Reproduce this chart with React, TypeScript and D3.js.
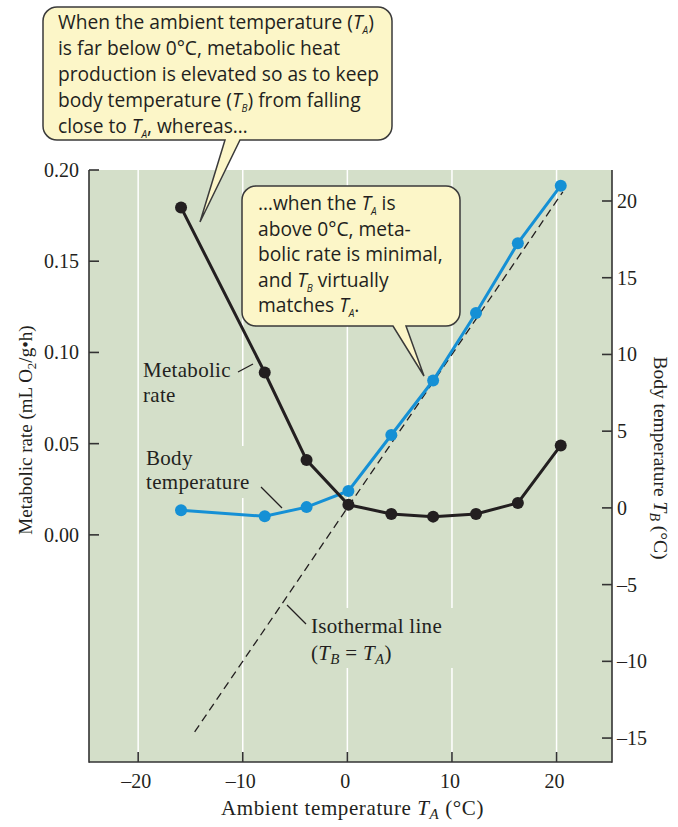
import React from 'react';
import * as d3 from 'd3';

// ambient temperature (°C) at each measurement
const ambientTemps = [-15.9, -7.9, -3.9, 0.1, 4.2, 8.2, 12.3, 16.3, 20.4];
// metabolic rate, mL O2 / g·h (left axis)
const metabolicRate = [0.1795, 0.089, 0.041, 0.0165, 0.0115, 0.010, 0.0115, 0.0175, 0.049];
// body temperature, °C (right axis)
const bodyTemp = [-0.15, -0.55, 0.05, 1.1, 4.75, 8.3, 12.7, 17.25, 21.0];
// isothermal line T_B = T_A, drawn between these ambient temps
const isoRange = [-14.6, 20.6];

const xTicks = [-20, -10, 0, 10, 20];
const leftTicks = [0, 0.05, 0.1, 0.15, 0.2];
const rightTicks = [-15, -10, -5, 0, 5, 10, 15, 20];

type Seg = { t: string; it?: boolean; sub?: boolean };

const callout1: Seg[][] = [
  [{ t: 'When the ambient temperature (' }, { t: 'T', it: true }, { t: 'A', it: true, sub: true }, { t: ')' }],
  [{ t: 'is far below 0°C, metabolic heat' }],
  [{ t: 'production is elevated so as to keep' }],
  [{ t: 'body temperature (' }, { t: 'T', it: true }, { t: 'B', it: true, sub: true }, { t: ') from falling' }],
  [{ t: 'close to ' }, { t: 'T', it: true }, { t: 'A', it: true, sub: true }, { t: ', whereas…' }],
];

const callout2: Seg[][] = [
  [{ t: '…when the ' }, { t: 'T', it: true }, { t: 'A', it: true, sub: true }, { t: ' is' }],
  [{ t: 'above 0°C, meta-' }],
  [{ t: 'bolic rate is minimal,' }],
  [{ t: 'and ' }, { t: 'T', it: true }, { t: 'B', it: true, sub: true }, { t: ' virtually' }],
  [{ t: 'matches ' }, { t: 'T', it: true }, { t: 'A', it: true, sub: true }, { t: '.' }],
];

const W = 678;
const H = 827;
const margin = { top: 170, right: 66, bottom: 65, left: 89 };

const INK = '#231f20';
const PLOT_BG = '#d4dfc9';
const BLUE = '#1590d5';
const NOTE_BG = '#fcf6c8';
const SERIF = '"Liberation Serif", "Times New Roman", serif';
const SANS = '"Open Sans", Lato, sans-serif';

// render a line made of plain / italic / subscript segments
function segs(list: Seg[], subSize: number, shift: number) {
  let down = false;
  return list.map((s, i) => {
    let dy = 0;
    if (s.sub && !down) { dy = shift; down = true; }
    else if (!s.sub && down) { dy = -shift; down = false; }
    return (
      <tspan
        key={i}
        dy={dy || undefined}
        fontStyle={s.it ? 'italic' : undefined}
        fontSize={s.sub ? subSize : undefined}
      >
        {s.t}
      </tspan>
    );
  });
}

function calloutPath(x0: number, y0: number, x1: number, y1: number, r: number, baseA: number, baseB: number, tip: [number, number]) {
  return [
    `M${x0 + r},${y0}`,
    `H${x1 - r}`,
    `A${r},${r} 0 0 1 ${x1},${y0 + r}`,
    `V${y1 - r}`,
    `A${r},${r} 0 0 1 ${x1 - r},${y1}`,
    `H${baseB}`,
    `L${tip[0]},${tip[1]}`,
    `L${baseA},${y1}`,
    `H${x0 + r}`,
    `A${r},${r} 0 0 1 ${x0},${y1 - r}`,
    `V${y0 + r}`,
    `A${r},${r} 0 0 1 ${x0 + r},${y0}`,
    'Z',
  ].join(' ');
}

export default function App() {
  const x0 = margin.left;
  const x1 = W - margin.right;
  const y0 = margin.top;
  const y1 = H - margin.bottom;

  const x = d3.scaleLinear().domain([-24.7, 25.3]).range([x0, x1]);
  const yM = d3.scaleLinear().domain([-0.1245, 0.2]).range([y1, y0]);
  const yT = d3.scaleLinear().domain([-16.56, 22.02]).range([y1, y0]);

  const metPts = ambientTemps.map((t, i) => [t, metabolicRate[i]] as [number, number]);
  const bodyPts = ambientTemps.map((t, i) => [t, bodyTemp[i]] as [number, number]);

  const metLine = d3.line<[number, number]>().x(d => x(d[0])).y(d => yM(d[1]));
  const bodyLine = d3.line<[number, number]>().x(d => x(d[0])).y(d => yT(d[1]));
  const isoLine = d3.line<number>().x(d => x(d)).y(d => yT(d));

  const fmt = d3.format('.2f');
  const minus = (v: number) => (v < 0 ? '–' + Math.abs(v) : String(v));

  return (
    <svg
      width={W}
      height={H}
      style={{ position: 'absolute', left: 0, top: 0, background: '#fff' }}
      fontFamily={SERIF}
    >
      {/* plot background */}
      <rect x={x0} y={y0} width={x1 - x0} height={y1 - y0} fill={PLOT_BG} />

      {/* white vertical grid */}
      {xTicks.map(t => (
        <line key={t} x1={x(t)} x2={x(t)} y1={y0} y2={y1} stroke="#fff" strokeWidth={1.5} />
      ))}

      {/* label patches that hide the grid */}
      <rect x={144} y={446} width={118} height={52} fill={PLOT_BG} />
      <rect x={308} y={608} width={150} height={60} fill={PLOT_BG} />

      {/* isothermal line */}
      <path d={isoLine(isoRange) || ''} fill="none" stroke={INK} strokeWidth={1.3} strokeDasharray="8 5" />

      {/* body temperature */}
      <path d={bodyLine(bodyPts) || ''} fill="none" stroke={BLUE} strokeWidth={3} />
      {bodyPts.map((d, i) => (
        <circle key={i} cx={x(d[0])} cy={yT(d[1])} r={6} fill={BLUE} />
      ))}

      {/* metabolic rate */}
      <path d={metLine(metPts) || ''} fill="none" stroke={INK} strokeWidth={3} />
      {metPts.map((d, i) => (
        <circle key={i} cx={x(d[0])} cy={yM(d[1])} r={6} fill={INK} />
      ))}

      {/* axes */}
      <g stroke="#333" strokeWidth={1.6}>
        <line x1={x0} x2={x0} y1={y0} y2={y1 + 0.8} />
        <line x1={x1} x2={x1} y1={y0} y2={y1 + 0.8} />
        <line x1={x0} x2={x1} y1={y1} y2={y1} />
        {leftTicks.map(t => (
          <line key={'l' + t} x1={x0} x2={x0 + 10} y1={yM(t)} y2={yM(t)} />
        ))}
        {rightTicks.map(t => (
          <line key={'r' + t} x1={x1 - 10} x2={x1} y1={yT(t)} y2={yT(t)} />
        ))}
        {xTicks.map(t => (
          <line key={'b' + t} x1={x(t)} x2={x(t)} y1={y1 - 10} y2={y1} />
        ))}
      </g>

      <g fill={INK} fontSize={20}>
        {leftTicks.map(t => (
          <text key={t} x={x0 - 10} y={yM(t) + 7} textAnchor="end">{fmt(t)}</text>
        ))}
        {rightTicks.map(t => (
          <text key={t} x={x1 + 5} y={yT(t) + 7}>{minus(t)}</text>
        ))}
        {xTicks.map(t => (
          <text key={t} x={x(t) - 2} y={y1 + 26} textAnchor="middle">{minus(t)}</text>
        ))}
      </g>

      {/* axis titles */}
      <g fill={INK}>
        <text x={(x0 + x1) / 2 + 2} y={H - 12} textAnchor="middle" fontSize={21} letterSpacing={0.6}>
          {segs([{ t: 'Ambient temperature ' }, { t: 'T', it: true }, { t: 'A', it: true, sub: true }, { t: ' (°C)' }], 15, 4)}
        </text>
        <text transform="translate(32,430) rotate(-90)" textAnchor="middle" fontSize={19}>
          {segs([{ t: 'Metabolic rate (mL O' }, { t: '2', sub: true }, { t: '/g•h)' }], 13, 4)}
        </text>
        <text transform="translate(654,458) rotate(90)" textAnchor="middle" fontSize={19.5}>
          {segs([{ t: 'Body temperature ' }, { t: 'T', it: true }, { t: 'B', it: true, sub: true }, { t: ' (°C)' }], 14, 4)}
        </text>
      </g>

      {/* in-plot labels */}
      <g fill={INK} fontSize={21} letterSpacing={0.3}>
        <text x={143} y={377}>Metabolic</text>
        <text x={143} y={402}>rate</text>
        <text x={146} y={465}>Body</text>
        <text x={146} y={489}>temperature</text>
        <text x={311} y={633}>Isothermal line</text>
        <text x={311} y={660}>
          {segs([{ t: '(' }, { t: 'T', it: true }, { t: 'B', it: true, sub: true }, { t: ' = ' }, { t: 'T', it: true }, { t: 'A', it: true, sub: true }, { t: ')' }], 15, 4)}
        </text>
      </g>
      <g stroke={INK} strokeWidth={1.2}>
        <line x1={238} y1={372} x2={253} y2={364} />
        <line x1={261} y1={487} x2={282} y2={508} />
        <line x1={287} y1={605} x2={306} y2={624} />
      </g>

      {/* callouts */}
      <path d={calloutPath(43, 7, 392, 140, 14, 225, 240, [200, 222])} fill={NOTE_BG} stroke="#3a3a3a" strokeWidth={1.5} />
      <text fontFamily={SANS} fontSize={19.2} fill={INK}>
        {callout1.map((line, i) => (
          <tspan key={i} x={58} y={28.5 + i * 26}>{segs(line, 10, 5)}</tspan>
        ))}
      </text>
      <path d={calloutPath(242, 186, 460, 326, 14, 393, 406, [424, 376])} fill={NOTE_BG} stroke="#3a3a3a" strokeWidth={1.5} />
      <text fontFamily={SANS} fontSize={19.2} fill={INK}>
        {callout2.map((line, i) => (
          <tspan key={i} x={258} y={210 + i * 25.6}>{segs(line, 10, 5)}</tspan>
        ))}
      </text>
    </svg>
  );
}
